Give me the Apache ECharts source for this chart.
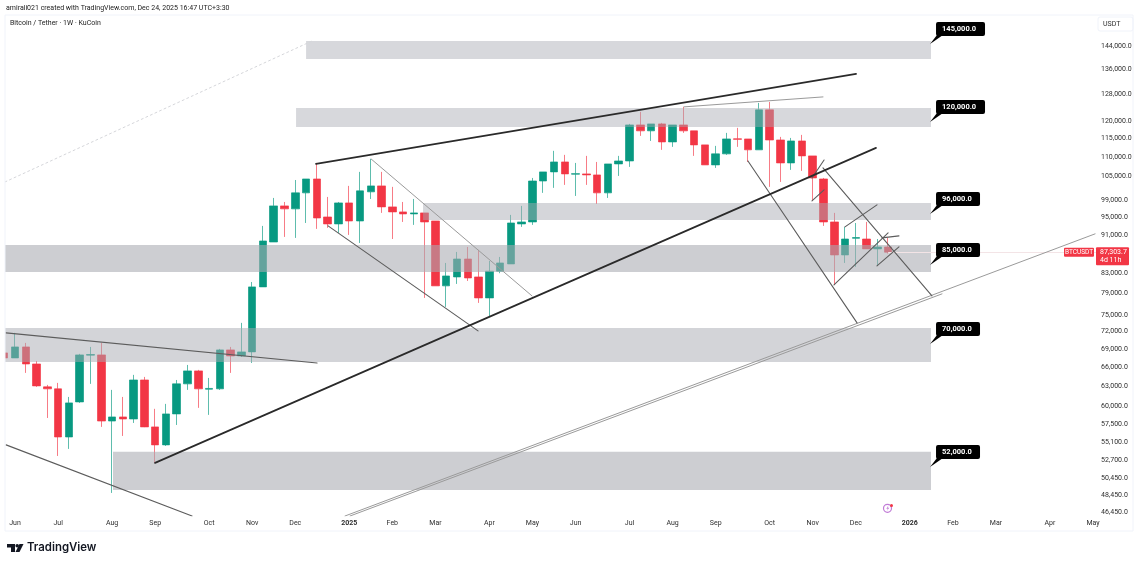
<!DOCTYPE html>
<html>
<head>
<meta charset="utf-8">
<style>
  html, body { margin: 0; padding: 0; background: #fff; }
  #chart { width: 1141px; height: 565px; }
</style>
<script src="https://cdn.jsdelivr.net/npm/echarts@6/dist/echarts.min.js"></script>
</head>
<body>
<div id="chart"></div>
<script>
// weekly candles
const opens = [68370, 67540, 69370, 66560, 62960, 62660, 55750, 60700, 68000, 68040, 57950, 58530, 58240, 64020, 57130, 54690, 58960, 63420, 65450, 62600, 62660, 68870, 67870, 68540, 80250, 89490, 97680, 96980, 100820, 104280, 95090, 93500, 98390, 94170, 101070, 102540, 97450, 96270, 95800, 96040, 94170, 80450, 82210, 85870, 82210, 78130, 83370, 84850, 93500, 93950, 103770, 106090, 108680, 105500, 105570, 105310, 100820, 108160, 108940, 118900, 117200, 119190, 114090, 118900, 117200, 113270, 107900, 110830, 114960, 114920, 111920, 123320, 114630, 108420, 114360, 110290, 104280, 93950, 86720, 90300, 90140, 88000, 88420];
const closes = [67540, 69370, 66560, 63110, 62660, 55750, 60560, 68040, 68100, 57950, 58530, 58240, 64020, 57130, 54690, 58960, 63420, 65450, 62660, 62720, 68870, 67870, 68540, 80250, 89710, 97680, 96980, 100820, 104280, 94860, 93500, 98390, 94170, 101310, 102540, 97450, 96270, 95800, 96040, 93950, 80450, 82410, 85870, 82010, 78130, 83370, 85050, 93720, 93950, 103770, 106090, 108680, 105570, 105640, 105310, 100820, 108160, 108940, 118900, 117200, 119190, 114090, 118900, 117200, 113270, 107900, 110830, 114920, 114800, 111920, 123320, 114630, 108420, 114360, 110290, 104540, 93950, 86720, 90140, 90450, 88000, 88420, 87303.7];
const lows = [67300, 67540, 65130, 62960, 58380, 53240, 54160, 60560, 63420, 57130, 48670, 55890, 57680, 57100, 52350, 54550, 57400, 62500, 59830, 58820, 62500, 65130, 67700, 66720, 80250, 89490, 90600, 90380, 93720, 92380, 92610, 91490, 91040, 89280, 99340, 96040, 90140, 93950, 93280, 78130, 80450, 76450, 80830, 81410, 77190, 74610, 82960, 84850, 92830, 93280, 100820, 102050, 102790, 100070, 102790, 98150, 99590, 105050, 107380, 115770, 114360, 111920, 112730, 116620, 110290, 107900, 107120, 110560, 112730, 108680, 111920, 102300, 103530, 106610, 106350, 98860, 93050, 80640, 85050, 84240, 88000, 84440, 87000];
const highs = [68700, 71780, 70050, 67040, 63260, 63570, 61440, 68210, 69370, 70050, 62500, 61440, 64820, 64500, 59690, 60410, 64020, 66400, 65610, 64340, 69040, 69370, 73540, 81210, 93050, 99590, 98620, 104020, 104280, 108420, 99830, 98620, 102540, 106090, 109470, 106090, 102300, 98620, 99340, 96040, 94170, 85050, 87360, 88420, 87790, 85460, 86300, 95570, 97680, 104540, 106090, 111650, 110560, 108420, 110290, 108680, 108160, 110290, 119190, 122720, 119190, 119480, 118900, 124220, 117200, 113270, 113000, 116620, 118050, 114920, 125420, 125720, 115490, 115200, 116055, 110290, 104540, 96040, 92830, 93720, 93950, 90140, 90380];

// x axis runs on candle numbers
const monthTicks = [1, 5, 10, 14, 19, 23, 27, 32, 36, 40, 45, 49, 53, 58, 62, 66, 71, 75, 79, 84, 88, 92, 97, 101];
const monthLabels = ['Jun', 'Jul', 'Aug', 'Sep', 'Oct', 'Nov', 'Dec', '2025', 'Feb', 'Mar', 'Apr', 'May', 'Jun', 'Jul', 'Aug', 'Sep', 'Oct', 'Nov', 'Dec', '2026', 'Feb', 'Mar', 'Apr', 'May'];
const priceTicks = [144000, 136000, 128000, 120000, 115000, 110000, 105000, 99000, 95000, 91000, 83000, 79000, 75000, 72000, 69000, 66000, 63000, 60000, 57500, 55100, 52700, 50450, 48450, 46450];

// grey zones: start candle, end candle, top price, bottom price
const zones = [
  [28.0, 85.97, 145760, 139530],
  [27.07, 85.97, 123880, 118300],
  [38.85, 85.97, 98390, 94390],
  [0.07, 85.97, 88860, 83220],
  [0.07, 85.97, 72650, 66880],
  [10.09, 85.97, 53770, 49030]
];

// callouts at the right end of each zone
const calloutTexts = ['145,000.0', '120,000.0', '96,000.0', '85,000.0', '70,000.0', '52,000.0'];
const calloutPrices = [144700, 119760, 95800, 84640, 69880, 51840];
const calloutCandle = 85.88;

// trendlines: x1, price1, x2, price2
const heavyLines = [
  [28.92, 108160, 79.02, 134580],
  [13.99, 52350, 80.87, 112460]
];
const darkLines = [
  [30.04, 93050, 43.95, 72130],
  [0.17, 54690, 17.42, 46020],
  [0.17, 71780, 29.02, 66720],
  [75.95, 107120, 86.06, 78510],
  [68.99, 108940, 79.11, 73530],
  [74.93, 104540, 76.05, 109200],
  [74.93, 98860, 76.05, 101550],
  [76.97, 80640, 81.99, 91490],
  [77.99, 92830, 80.96, 97920],
  [80.96, 84440, 83.0, 88420],
  [81.42, 90380, 83.0, 90820]
];
const paleLines = [
  [63.06, 124220, 75.95, 127260],
  [34.03, 109470, 48.96, 78510],
  [31.61, 46020, 101.19, 91270],
  [32.08, 46020, 86.99, 78900]
];
const dashedLines = [
  [0.07, 103530, 28.55, 145760]
];

const lastPrice = 87303.7;
const lastPriceText = '87,303.7';
const countdownText = '4d 11h';

const FONT = 'Roboto, "Liberation Sans", sans-serif';
const UP = '#089981';
const DOWN = '#F23645';
// the screenshot's zones are not all the same grey
const zoneOpacity = [0.46, 0.46, 0.48, 0.58, 0.5, 0.58];

const chart = echarts.init(document.getElementById('chart'));

function lineSeries(list, color, width, type) {
  return list.map(l => ({
    type: 'line',
    silent: true,
    symbol: 'none',
    z: 6,
    data: [[l[0], l[1]], [l[2], l[3]]],
    lineStyle: { color, width, type: type || 'solid', cap: 'round' }
  }));
}

const candleData = opens.map((o, i) => [i, o, closes[i], lows[i], highs[i]]);

const series = [
  {
    type: 'candlestick',
    silent: true,
    z: 2,
    barWidth: 8,
    encode: { x: 0, y: [1, 2, 3, 4] },
    data: candleData,
    itemStyle: {
      color: UP,
      color0: DOWN,
      borderColor: 'rgba(8,153,129,0.65)',
      borderColor0: 'rgba(242,54,69,0.65)',
      borderWidth: 1
    },
    markLine: {
      silent: true,
      symbol: 'none',
      label: { show: false },
      lineStyle: { color: '#f3e4e6', width: 1, type: 'solid' },
      data: [[{ coord: [82, lastPrice] }, { coord: [101.37, lastPrice] }]]
    }
  },
  {
    // zones sit over the candles and wash them out
    type: 'custom',
    silent: true,
    z: 4,
    data: zones,
    encode: { x: [0, 1], y: [2, 3] },
    renderItem(params, api) {
      const a = api.coord([api.value(0), api.value(2)]);
      const b = api.coord([api.value(1), api.value(3)]);
      return {
        type: 'rect',
        shape: { x: a[0], y: a[1], width: b[0] - a[0], height: b[1] - a[1] },
        style: { fill: 'rgb(168,170,178)', opacity: zoneOpacity[params.dataIndex] }
      };
    }
  },
  ...lineSeries(dashedLines, '#d5d6da', 1, [2, 3]),
  ...lineSeries(paleLines, '#9a9a9a', 1),
  ...lineSeries(darkLines, '#5c5c5c', 1.1),
  ...lineSeries(heavyLines, '#2a2a2a', 1.7),
  {
    type: 'custom',
    silent: true,
    clip: false,
    z: 8,
    data: calloutPrices.map((p, i) => [calloutCandle, p, i]),
    encode: { x: 0, y: 1 },
    renderItem(params, api) {
      const pt = api.coord([api.value(0), api.value(1)]);
      const text = calloutTexts[api.value(2)];
      const w = text.length > 8 ? 49 : 44;
      const left = pt[0] + 6, top = pt[1] - 22;
      return {
        type: 'group',
        children: [
          { type: 'polygon', shape: { points: [[pt[0], pt[1]], [left + 1, top + 13], [left + 7, top + 13]] }, style: { fill: '#000' } },
          { type: 'rect', shape: { x: left, y: top, width: w, height: 14, r: 2 }, style: { fill: '#000' } },
          { type: 'text', style: { x: left + 6, y: top + 7, text, fill: '#fff', font: 'bold 7.5px ' + FONT, verticalAlign: 'middle' } }
        ]
      };
    }
  },
  {
    // last price tags on the axis
    type: 'custom',
    silent: true,
    clip: false,
    z: 9,
    data: [[82, lastPrice]],
    encode: { x: 0, y: 1 },
    renderItem(params, api) {
      const y = api.coord([api.value(0), api.value(1)])[1];
      const right = params.coordSys.x + params.coordSys.width;
      return {
        type: 'group',
        children: [
          { type: 'rect', shape: { x: right - 33, y: y - 4.5, width: 30, height: 9, r: 1 }, style: { fill: DOWN } },
          { type: 'text', style: { x: right - 18, y, text: 'BTCUSDT', fill: '#fff', font: '6.5px ' + FONT, align: 'center', verticalAlign: 'middle' } },
          { type: 'rect', shape: { x: right - 1, y: y - 5, width: 33, height: 18, r: 1 }, style: { fill: DOWN } },
          { type: 'text', style: { x: right + 3, y: y - 0.2, text: lastPriceText, fill: '#fff', font: '7px ' + FONT, verticalAlign: 'middle' } },
          { type: 'text', style: { x: right + 3, y: y + 8, text: countdownText, fill: '#fff', font: '7px ' + FONT, verticalAlign: 'middle' } }
        ]
      };
    }
  }
];

const option = {
  backgroundColor: '#fff',
  animation: false,
  grid: { left: 5, right: 44, top: 15, bottom: 49, containLabel: false },
  xAxis: {
    type: 'value',
    min: 0.07,
    max: 101.37,
    splitLine: { show: false },
    axisLine: { show: false },
    axisTick: { show: false },
    axisLabel: {
      customValues: monthTicks,
      color: '#2e2e2e',
      fontFamily: FONT,
      fontSize: 7,
      margin: 4,
      hideOverlap: false,
      formatter: v => {
        const label = monthLabels[monthTicks.indexOf(v)];
        return label.length === 4 ? '{year|' + label + '}' : label;
      },
      rich: { year: { fontFamily: FONT, fontSize: 7, fontWeight: 'bold', color: '#2e2e2e' } }
    }
  },
  yAxis: {
    type: 'log',
    logBase: 10,
    position: 'right',
    min: 46020,
    max: 155250,
    splitLine: { show: false },
    axisLine: { show: false },
    axisTick: { show: false },
    axisLabel: {
      customValues: priceTicks,
      color: '#2e2e2e',
      fontFamily: FONT,
      fontSize: 7,
      margin: 4,
      align: 'left',
      formatter: v => Number(v).toLocaleString('en-US', { minimumFractionDigits: 1, maximumFractionDigits: 1 })
    }
  },
  graphic: [
    // first candle is cut by the pane edge
    { type: 'rect', z: 100, shape: { x: 0, y: 15, width: 5, height: 516 }, style: { fill: '#fff' } },
    { type: 'rect', z: 101, shape: { x: 5, y: 15, width: 1128, height: 516 }, style: { fill: 'none', stroke: '#f0f3fa', lineWidth: 1 } },
    { type: 'text', style: { x: 6, y: 8, text: 'amirali021 created with TradingView.com, Dec 24, 2025 16:47 UTC+3:30', fill: '#222', font: '7px ' + FONT, verticalAlign: 'middle' } },
    { type: 'text', style: { x: 10, y: 23, text: 'Bitcoin / Tether · 1W · KuCoin', fill: '#222', font: '7px ' + FONT, verticalAlign: 'middle' } },
    { type: 'rect', shape: { x: 1098, y: 17, width: 35, height: 14, r: 2 }, style: { fill: '#fff', stroke: '#f0f3fa' } },
    { type: 'text', style: { x: 1103, y: 24, text: 'USDT', fill: '#2e2e2e', font: '7px ' + FONT, verticalAlign: 'middle' } },
    // bolt badge
    { type: 'circle', shape: { cx: 887.5, cy: 508.3, r: 4 }, style: { fill: 'none', stroke: '#c07ad6', lineWidth: 1.2 } },
    { type: 'polygon', shape: { points: [[888.5, 505.3], [886.3, 508.8], [887.9, 508.8], [886.7, 511.3], [889.3, 507.7], [887.7, 507.7]] }, style: { fill: '#c07ad6' } },
    { type: 'circle', shape: { cx: 891.5, cy: 505.5, r: 1.5 }, style: { fill: '#F23645' } },
    // logo
    { type: 'polygon', shape: { points: [[7, 544], [15, 544], [15, 552], [11, 552], [11, 547.5], [7, 547.5]] }, style: { fill: '#131722' } },
    { type: 'circle', shape: { cx: 17.2, cy: 545.8, r: 1.8 }, style: { fill: '#131722' } },
    { type: 'polygon', shape: { points: [[19.5, 544], [23.5, 544], [19.5, 552], [15.5, 552]] }, style: { fill: '#131722' } },
    { type: 'text', style: { x: 27, y: 548, text: 'TradingView', fill: '#131722', font: '600 11.4px Inter, ' + FONT, verticalAlign: 'middle' } }
  ],
  series
};

chart.setOption(option);
</script>
</body>
</html>
